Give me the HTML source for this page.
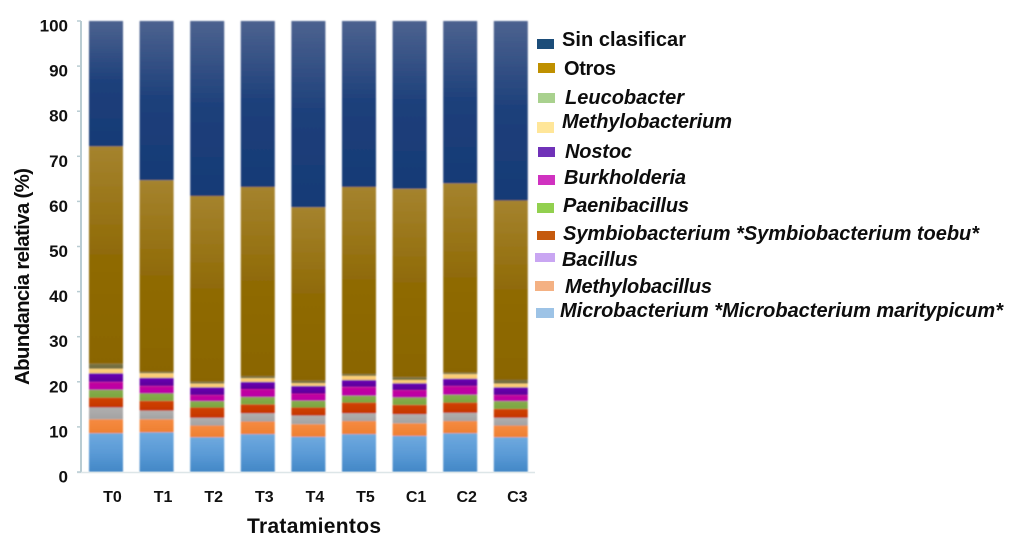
<!DOCTYPE html>
<html lang="es">
<head>
<meta charset="utf-8">
<title>Abundancia relativa por tratamiento</title>
<style>
html,body{margin:0;padding:0;background:#fff;}
svg{display:block;}
text{font-family:"Liberation Sans",sans-serif;font-weight:bold;fill:#111;}
.leg{font-size:20px;}
.it{font-style:italic;}
</style>
</head>
<body>
<svg id="chart" xmlns="http://www.w3.org/2000/svg" width="1025" height="559" viewBox="0 0 1025 559">
<defs>
<filter id="soft" x="-10%" y="-10%" width="120%" height="120%"><feGaussianBlur stdDeviation="0.7"/></filter>
<filter id="softText" x="-5%" y="-20%" width="110%" height="140%"><feGaussianBlur stdDeviation="0.25"/></filter>
</defs>
<rect x="0" y="0" width="1025" height="559" fill="#ffffff"/>
<g id="bars" filter="url(#soft)"></g>
<g id="axes"></g>
<text transform="translate(29,385) rotate(-90)" font-size="20.5" textLength="217" lengthAdjust="spacing" filter="url(#softText)">Abundancia relativa (%)</text>
<text x="247" y="533" font-size="21" textLength="134" lengthAdjust="spacing" filter="url(#softText)">Tratamientos</text>
<g id="legend" filter="url(#softText)">
<g><rect x="537" y="39" width="17" height="10" fill="#1f4e79"/><text class="leg" x="562" y="46" textLength="124" lengthAdjust="spacing">Sin clasificar</text></g>
<g><rect x="538" y="63" width="17" height="10" fill="#bf9000"/><text class="leg" x="564" y="75" textLength="52" lengthAdjust="spacing">Otros</text></g>
<g><rect x="538" y="93" width="17" height="10" fill="#a9d18e"/><text class="leg it" x="565" y="104" textLength="119" lengthAdjust="spacing">Leucobacter</text></g>
<g><rect x="537" y="122" width="17" height="11" fill="#ffe699"/><text class="leg it" x="562" y="128" textLength="170" lengthAdjust="spacing">Methylobacterium</text></g>
<g><rect x="538" y="147" width="17" height="10" fill="#7030b8"/><text class="leg it" x="565" y="158" textLength="67" lengthAdjust="spacing">Nostoc</text></g>
<g><rect x="538" y="175" width="17" height="10" fill="#d030c0"/><text class="leg it" x="564" y="184" textLength="122" lengthAdjust="spacing">Burkholderia</text></g>
<g><rect x="537" y="203" width="17" height="10" fill="#92d050"/><text class="leg it" x="563" y="212" textLength="126" lengthAdjust="spacing">Paenibacillus</text></g>
<g><rect x="537" y="231" width="18" height="9" fill="#c55a11"/><text class="leg it" x="563" y="240" textLength="416" lengthAdjust="spacing">Symbiobacterium *Symbiobacterium toebu*</text></g>
<g><rect x="535" y="253" width="20" height="9" fill="#c9a6f2"/><text class="leg it" x="562" y="266" textLength="76" lengthAdjust="spacing">Bacillus</text></g>
<g><rect x="535" y="281" width="19" height="10" fill="#f4b183"/><text class="leg it" x="565" y="293" textLength="147" lengthAdjust="spacing">Methylobacillus</text></g>
<g><rect x="536" y="308" width="18" height="10" fill="#9dc3e6"/><text class="leg it" x="560" y="317" textLength="443" lengthAdjust="spacing">Microbacterium *Microbacterium maritypicum*</text></g>
</g>
</svg>
<script>
// Chart data (percent)
const categories = ['T0','T1','T2','T3','T4','T5','C1','C2','C3'];
const yTicks = [0,10,20,30,40,50,60,70,80,90,100];
const microbacterium = [8.6,8.8,7.7,8.4,7.8,8.4,8.0,8.6,7.7];
const methylobacillus = [3.1,2.9,2.6,2.8,2.8,2.9,2.8,2.7,2.6];
const bacillus = [2.6,1.9,1.7,1.8,1.9,1.7,2.0,1.8,1.7];
const symbiobacterium = [2.2,2.2,2.3,2.0,1.8,2.4,2.1,2.3,2.0];
const paenibacillus = [1.7,1.6,1.4,1.6,1.5,1.5,1.6,1.7,1.7];
const burkholderia = [1.8,1.7,1.4,1.8,1.6,2.0,1.7,2.0,1.4];
const nostoc = [1.9,1.8,1.7,1.6,1.7,1.5,1.5,1.6,1.7];
const methylobacterium = [1.0,1.0,0.8,0.8,0.6,0.9,0.7,1.0,0.8];
const leucobacter = [1.1,0.3,0.4,0.4,0.5,0.4,0.6,0.3,0.8];
const otros = [48.2,42.5,41.2,42.0,38.5,41.5,41.8,42.0,39.8];
const sinClasificar = [27.8,35.3,38.8,36.8,41.3,36.8,37.2,36.0,39.8];

const seriesList = [
  ['microbacterium', microbacterium, '#6ea9de', '#4287c6', '#5a9ad6'],
  ['methylobacillus', methylobacillus, '#f58a42', '#ee7f33', '#f28538'],
  ['bacillus', bacillus, '#b0aeae', '#a3a2a2', '#a9a8a8'],
  ['symbiobacterium', symbiobacterium, '#cf4208', '#c43400', '#ca3b04'],
  ['paenibacillus', paenibacillus, '#86ad4e', '#7aa63f', '#80a946'],
  ['burkholderia', burkholderia, '#c4089c', '#b800a8', '#be04a2'],
  ['nostoc', nostoc, '#6a04b4', '#5a0098', '#6202a6'],
  ['methylobacterium', methylobacterium, '#ffd37a', '#f8c870', '#fbcd75'],
  ['leucobacter', leucobacter, '#7d7440', '#6e6a3e', '#756f3f'],
  ['otros', otros, '#a5832e', '#8a6500', '#8f6a06'],
  ['sin-clasificar', sinClasificar, '#4c628f', '#173a76', '#1c3f7a']
];

const NS = 'http://www.w3.org/2000/svg';
const svg = document.getElementById('chart');
const defs = svg.querySelector('defs');
const barsG = document.getElementById('bars');
const axesG = document.getElementById('axes');

const yScale = v => 472 - v * 4.51;
const xBand = i => 89 + i * 50.6;
const barWidth = 34;

function make(tag, parent, attrs, txt) {
  const el = document.createElementNS(NS, tag);
  for (const k in attrs) el.setAttribute(k, attrs[k]);
  if (txt !== undefined) el.textContent = txt;
  parent.appendChild(el);
  return el;
}

seriesList.forEach(function (s) {
  const g = make('linearGradient', defs, {id: 'grad-' + s[0], x1: 0, y1: 0, x2: 0, y2: 1});
  make('stop', g, {offset: '0%', 'stop-color': s[2]});
  make('stop', g, {offset: '50%', 'stop-color': s[4]});
  make('stop', g, {offset: '100%', 'stop-color': s[3]});
});

categories.forEach(function (cat, i) {
  let base = 0;
  seriesList.forEach(function (s) {
    const v = s[1][i];
    const top = base + v;
    const r = make('rect', barsG, {
      x: xBand(i),
      y: yScale(top),
      width: barWidth,
      height: yScale(base) - yScale(top),
      fill: 'url(#grad-' + s[0] + ')'
    });
    
    
    base = top;
  });
  const lab = make('text', axesG, {
    x: xBand(i) + barWidth / 2 + 6.5,
    y: 502,
    'text-anchor': 'middle',
    'font-size': 16
  }, cat);
  
  
});

const yAxis = make('line', axesG, {x1: 81, y1: yScale(100), x2: 81, y2: yScale(0), stroke: '#b9ccd2', 'stroke-width': 2});


const xAxis = make('line', axesG, {x1: 77, y1: yScale(0) + 0.5, x2: 535, y2: yScale(0) + 0.5, stroke: '#dde6e8', 'stroke-width': 1.5});



yTicks.forEach(function (t) {
  const tick = make('line', axesG, {x1: 77, y1: yScale(t), x2: 81, y2: yScale(t), stroke: '#b9ccd2', 'stroke-width': 1.5});
  
  
  const lab = make('text', axesG, {x: 68, y: yScale(t) + 10.5, 'text-anchor': 'end', 'font-size': 17}, String(t));
  
  
});
</script>
</body>
</html>
